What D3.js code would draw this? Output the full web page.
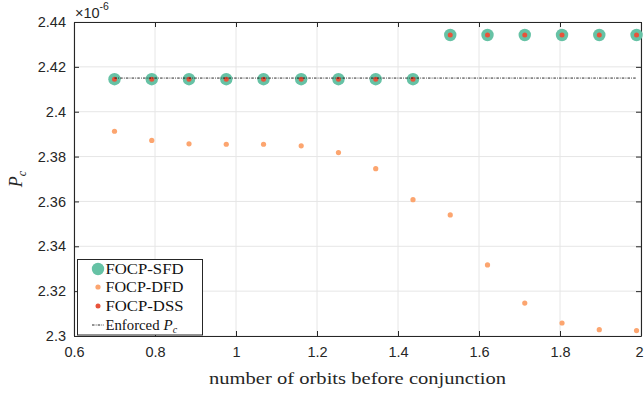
<!DOCTYPE html>
<html><head><meta charset="utf-8">
<script src="https://cdn.jsdelivr.net/npm/d3@7"></script>
<style>body{margin:0;background:#fff}svg{display:block}</style>
</head><body>
<script>
const orbits = [0.700, 0.792, 0.884, 0.976, 1.068, 1.161, 1.253, 1.345, 1.437, 1.529, 1.621, 1.713, 1.805, 1.897, 1.989];
const sfd = [2.4145, 2.4145, 2.4145, 2.4145, 2.4145, 2.4145, 2.4145, 2.4145, 2.4145, 2.4342, 2.4342, 2.4342, 2.4342, 2.4342, 2.4342];
const dss = [2.4145, 2.4145, 2.4145, 2.4145, 2.4145, 2.4145, 2.4145, 2.4145, 2.4145, 2.4342, 2.4342, 2.4342, 2.4342, 2.4342, 2.4342];
const dfd = [2.3913, 2.3872, 2.3857, 2.3855, 2.3855, 2.3848, 2.3818, 2.3746, 2.3608, 2.3540, 2.3317, 2.3147, 2.3058, 2.3028, 2.3024];
const enforced = 2.4150;
const xTicks = [0.6, 0.8, 1.0, 1.2, 1.4, 1.6, 1.8, 2.0];
const yTicks = [2.30, 2.32, 2.34, 2.36, 2.38, 2.40, 2.42, 2.44];
const legendNames = ["FOCP-SFD", "FOCP-DFD", "FOCP-DSS", "Enforced"];

const W = 644, H = 397;
const m = {l: 74, r: 3, t: 22, b: 61};
const svg = d3.select("body").append("svg").attr("width", W).attr("height", H);
const x = d3.scaleLinear().domain([0.6, 2.0]).range([m.l, W - m.r]);
const y = d3.scaleLinear().domain([2.30, 2.44]).range([H - m.b, m.t]);
const axCol = "#262626";
const sans = "'Liberation Sans', Arial, sans-serif";
const serif = "'Liberation Serif', 'Times New Roman', serif";

// grid
const g = svg.append("g");
g.selectAll(".gx").data(xTicks).enter().append("line")
  .attr("x1", d => x(d)).attr("x2", d => x(d)).attr("y1", m.t).attr("y2", H - m.b)
  .attr("stroke", "#e6e6e6").attr("stroke-width", 1);
g.selectAll(".gy").data(yTicks).enter().append("line")
  .attr("y1", d => y(d)).attr("y2", d => y(d)).attr("x1", m.l).attr("x2", W - m.r)
  .attr("stroke", "#e6e6e6").attr("stroke-width", 1);

// axes
const fmtX = d => d3.format("~g")(d);
const xAxis = svg.append("g").attr("transform", `translate(0,${H - m.b})`)
  .call(d3.axisBottom(x).tickValues(xTicks).tickFormat(fmtX).tickSizeInner(-5).tickSizeOuter(0).tickPadding(11));
const yAxis = svg.append("g").attr("transform", `translate(${m.l},0)`)
  .call(d3.axisLeft(y).tickValues(yTicks).tickFormat(d => d3.format("~g")(d)).tickSizeInner(-5).tickSizeOuter(0).tickPadding(8));
const xTop = svg.append("g").attr("transform", `translate(0,${m.t})`)
  .call(d3.axisTop(x).tickValues(xTicks).tickFormat("").tickSizeInner(-5).tickSizeOuter(0));
const yRight = svg.append("g").attr("transform", `translate(${W - m.r},0)`)
  .call(d3.axisRight(y).tickValues(yTicks).tickFormat("").tickSizeInner(-5).tickSizeOuter(0));
[xAxis, yAxis, xTop, yRight].forEach(a => {
  a.select(".domain").attr("stroke", axCol).attr("stroke-width", 1.1);
  a.selectAll(".tick line").attr("stroke", axCol).attr("stroke-width", 1);
  a.selectAll("text").attr("font-family", sans).attr("font-size", 14.5).attr("fill", axCol);
});
xAxis.selectAll(".tick text").filter(d => d === 2.0).attr("dx", -2);

// exponent
const ex = svg.append("text").attr("x", m.l + 1).attr("y", 18).attr("font-family", sans).attr("font-size", 14.5).attr("fill", axCol);
ex.append("tspan").text("\u00d710");
ex.append("tspan").attr("dy", -8).attr("font-size", 10.5).text("-6");

// points
const idx = d3.range(orbits.length);
svg.append("g").selectAll("circle").data(idx).enter().append("circle")
  .attr("cx", i => x(orbits[i])).attr("cy", i => y(sfd[i])).attr("r", 6.2).attr("fill", "#66c2a5");
svg.append("g").selectAll("circle").data(idx).enter().append("circle")
  .attr("cx", i => x(orbits[i])).attr("cy", i => y(dfd[i])).attr("r", 2.6).attr("fill", "#fca56f");
svg.append("g").selectAll("circle").data(idx).enter().append("circle")
  .attr("cx", i => x(orbits[i])).attr("cy", i => y(dss[i])).attr("r", 2.5).attr("fill", "#e8523a");

// enforced line
svg.append("line").attr("x1", x(orbits[0])).attr("x2", x(orbits[orbits.length - 1]))
  .attr("y1", y(enforced)).attr("y2", y(enforced))
  .attr("stroke", "#111").attr("stroke-width", 0.9).attr("stroke-dasharray", "2.5,1.2,0.8,1.2");

// axis labels
svg.append("text").attr("x", (m.l + W - m.r) / 2).attr("y", 384).attr("text-anchor", "middle")
  .attr("font-family", serif).attr("font-size", 17.5).attr("fill", axCol)
  .attr("textLength", 297).attr("lengthAdjust", "spacingAndGlyphs")
  .text("number of orbits before conjunction");
const yl = svg.append("text").attr("transform", `translate(22,${(m.t + H - m.b) / 2}) rotate(-90)`)
  .attr("text-anchor", "middle").attr("font-family", serif).attr("font-size", 18).attr("fill", axCol);
yl.append("tspan").attr("font-style", "italic").text("P");
yl.append("tspan").attr("font-style", "italic").attr("font-size", 12).attr("dy", 4).text("c");

// legend
const lg = svg.append("g");
lg.append("rect").attr("x", 77.5).attr("y", 259.5).attr("width", 125).attr("height", 75.5)
  .attr("fill", "#fff").attr("stroke", axCol).attr("stroke-width", 1);
const rows = [269, 287, 306, 325];
const lx = 98, tx = 105.5;
lg.append("circle").attr("cx", lx).attr("cy", rows[0]).attr("r", 6.2).attr("fill", "#66c2a5");
lg.append("circle").attr("cx", lx).attr("cy", rows[1]).attr("r", 2.6).attr("fill", "#fca56f");
lg.append("circle").attr("cx", lx).attr("cy", rows[2]).attr("r", 2.5).attr("fill", "#e8523a");
lg.append("line").attr("x1", 92).attr("x2", 104).attr("y1", rows[3]).attr("y2", rows[3])
  .attr("stroke", "#111").attr("stroke-width", 0.9).attr("stroke-dasharray", "2.5,1.2,0.8,1.2");
const lens = [78, 78, 78, 54];
legendNames.forEach((t, i) => {
  const tt = lg.append("text").attr("x", tx).attr("y", rows[i] + 5).attr("font-family", serif)
    .attr("font-size", 15).attr("fill", "#111");
  tt.append("tspan").attr("textLength", lens[i]).attr("lengthAdjust", "spacingAndGlyphs").text(t);
  if (i === 3) {
    tt.append("tspan").attr("dx", 4).attr("font-style", "italic").text("P");
    tt.append("tspan").attr("font-style", "italic").attr("font-size", 10).attr("dy", 3).text("c");
  }
});
</script>
</body></html>
